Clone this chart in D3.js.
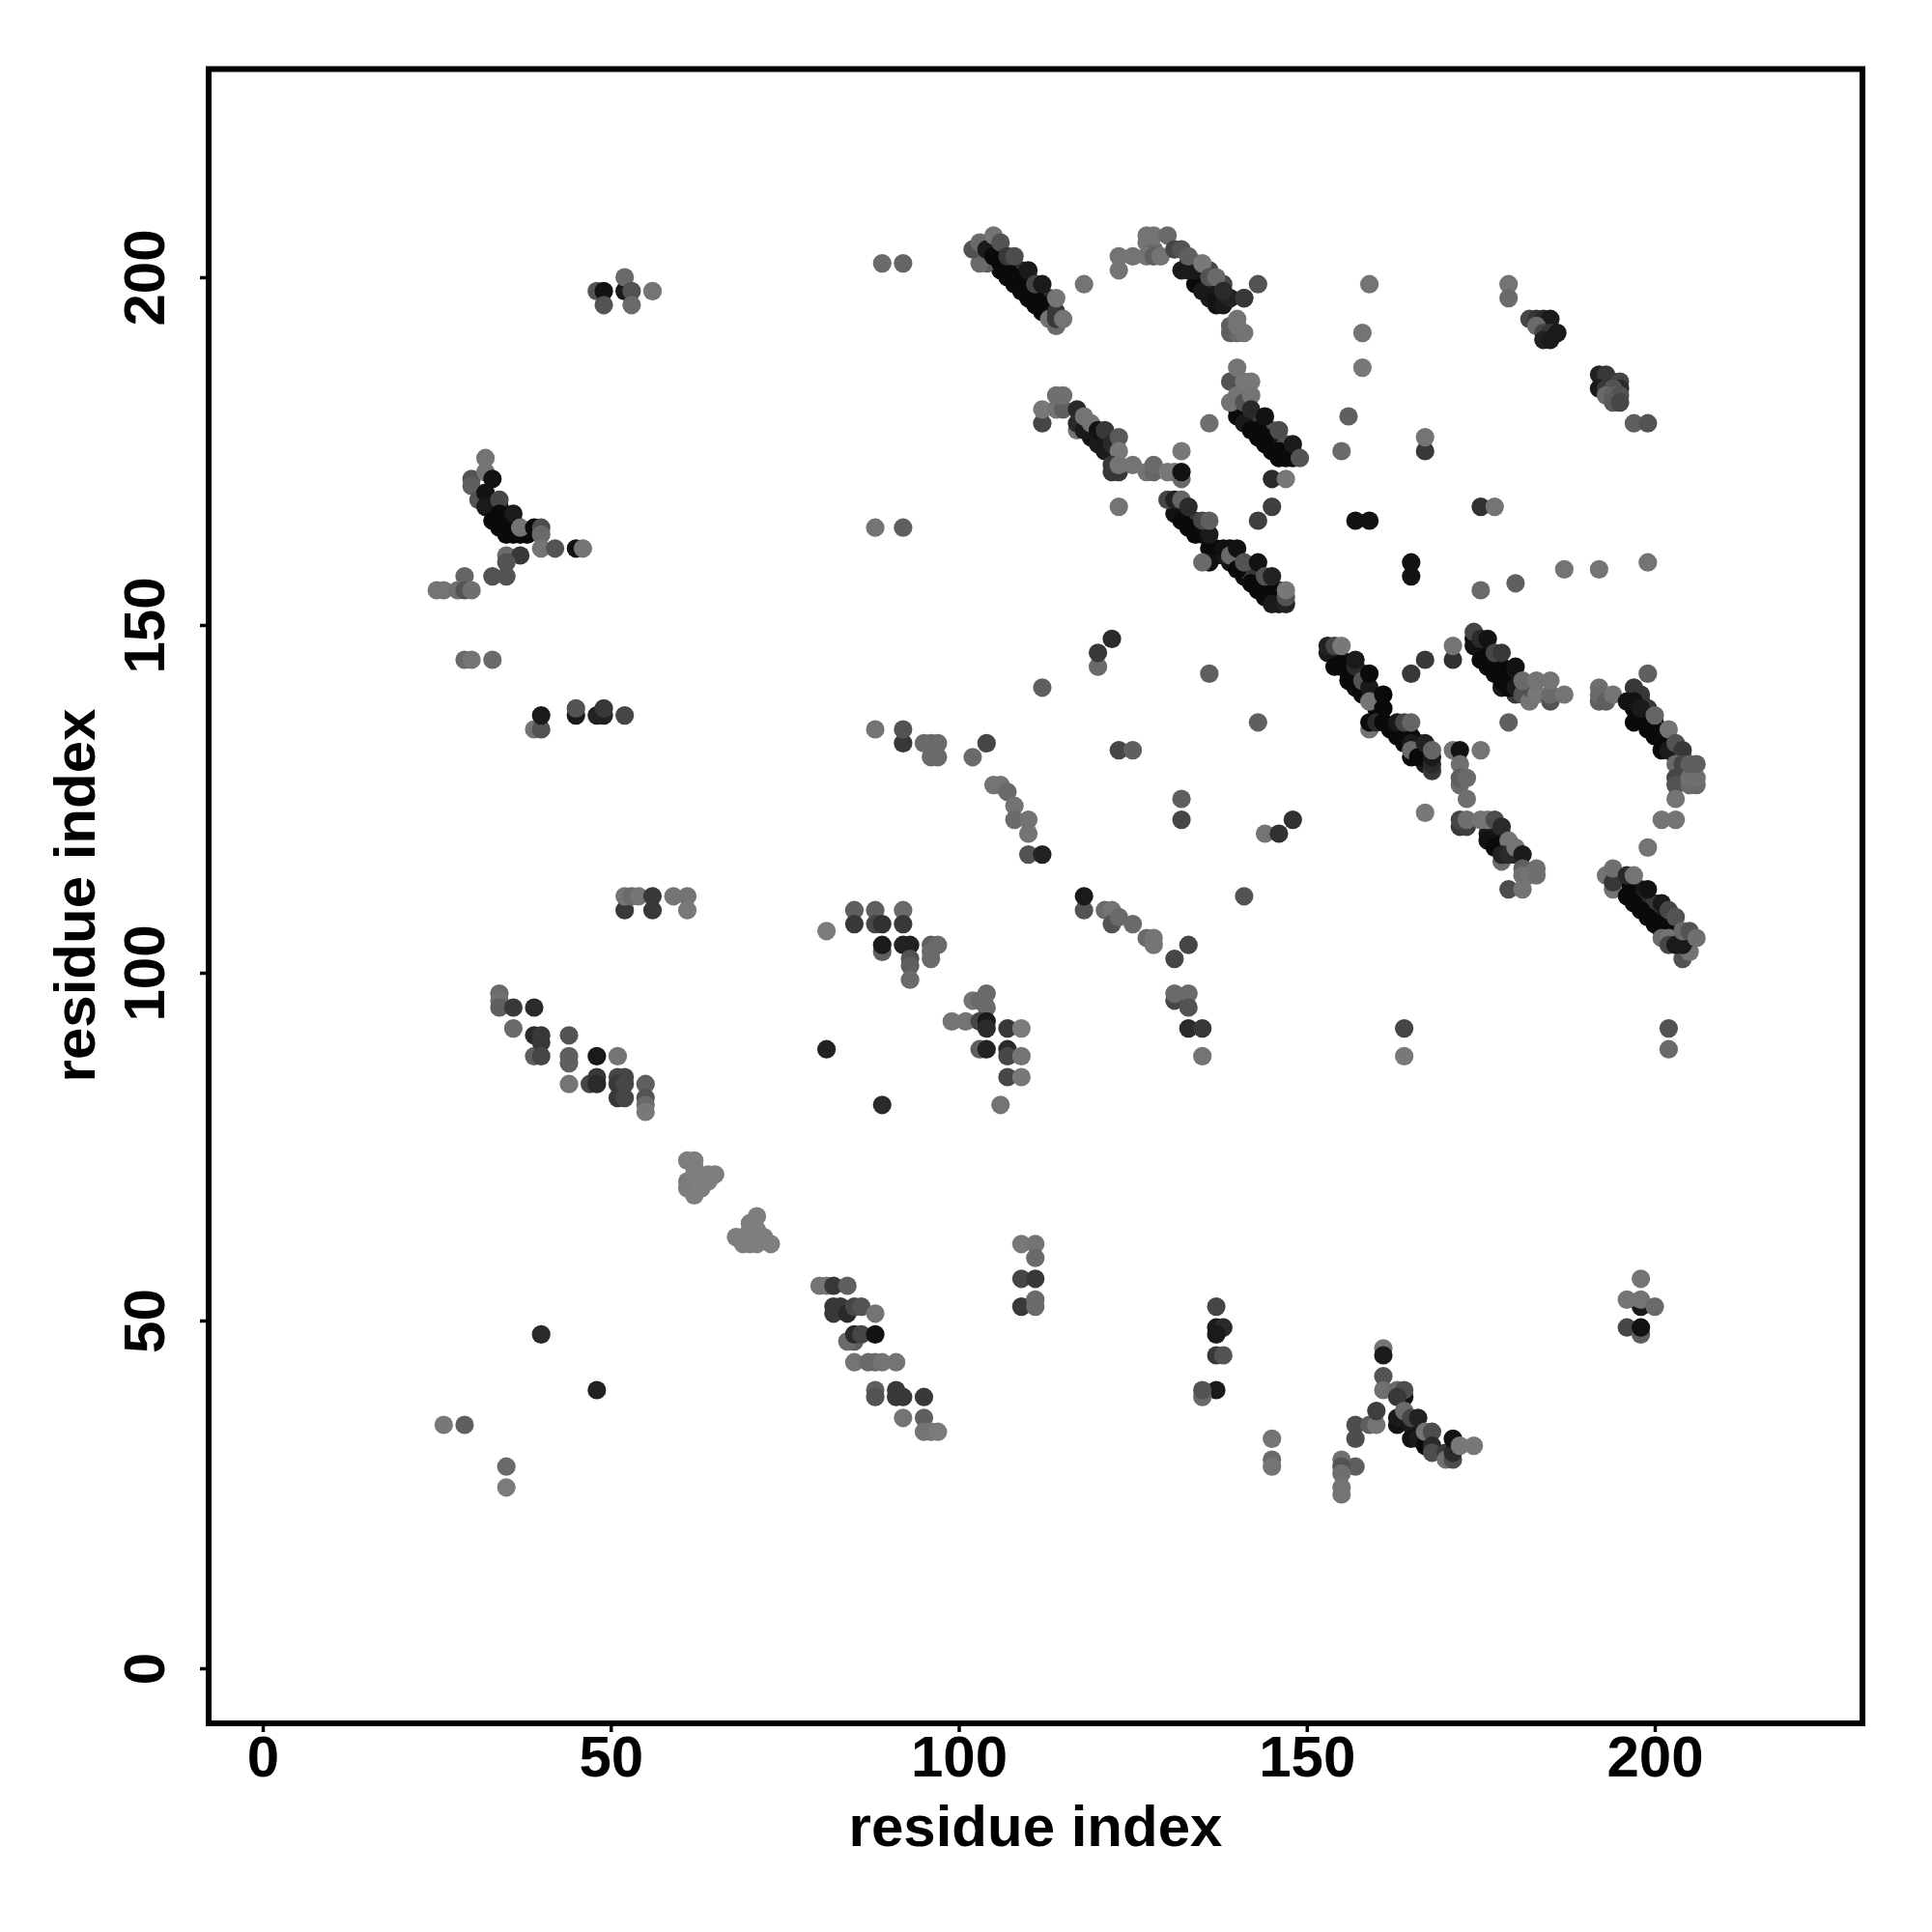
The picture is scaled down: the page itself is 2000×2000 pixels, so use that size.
<!DOCTYPE html>
<html><head><meta charset="utf-8"><style>html,body{margin:0;background:#fff}text{font-family:"Liberation Sans",Arial,sans-serif;font-weight:700}</style>
<script src="https://cdn.jsdelivr.net/npm/d3@7"></script></head><body><svg id="c" width="2000" height="2000"></svg>
<script>
const tickValues=[0,50,100,150,200];
const axisTitle="residue index";
// each contact: [residue x, residue y, strength 0..1]
const bandCores=[[33,167,1],[34,167,1],[35,165,1],[35,164,1],[36,164,1],[36,165,1],[34,164,1],[38,163,1],
[106,201,1],[108,199,1],[110,197,1],[112,195,1],[106,203,.9],[109,201,.8],[110,200,.9],[111,198,.9],[112,197,.9],[113,196,.9],[113,197,.8],
[134,199,1],[135,199,1],[136,198,1],[137,198,1],[137,196,.95],[134,201,.9],[134,202,.6],[136,201,.6],[138,199,.6],[133,202,.9],
[118,179,.9],[119,177,.95],[121,176,.95],[121,175,.9],[119,178,.9],
[140,181,.9],[140,180,1],[141,181,.85],[141,180,1],[142,180,.9],[143,179,.7],[145,177,.6],[146,176,.9],[147,175,1],[148,175,.9],[148,174,1],[147,176,.5],[144,178,.7],[145,178,.5],[143,178,1],[144,177,1],[146,174,1],
[133,165,.9],[134,164,1],[135,164,.9],[134,165,.7],[137,161,1],[139,161,1],[139,159,.95],[141,157,1],[141,158,1],[143,156,1],[144,155,1],[145,154,1],[146,155,.8],[146,154,1],[142,157,.7],[143,157,.7],[145,155,1],[137,160,1],[138,160,.9],
[155,145,1],[156,144,1],[156,143,1],[157,143,1],[158,141,1],[158,143,1],[159,140,1],[160,139,1],[160,138,1],[162,135,1],[163,134,1],[163,135,1],[164,134,1],[165,134,1],[165,131,1],[166,133,1],[166,132,1],[167,130,.9],[168,129,.7],
[174,148,1],[175,147,1],[176,146,1],[176,145,1],[177,145,1],[178,144,1],[178,143,1],[179,143,1],[179,142,.9],[180,142,.9],[177,144,1],[178,141,.9],[180,140,.7],
[197,138,1],[198,137,1],[199,137,1],[200,136,1],[200,135,1],[201,134,.9],[202,133,1],[203,131,1],[203,132,.9],[198,139,.9],[198,140,.7],[199,138,.7],[204,131,.5],
[177,120,1],[178,119,1],[178,120,1],[179,118,.9],[180,117,.8],[177,119,1],[176,120,.9],
[197,112,1],[198,111,1],[197,111,1],[199,110,1],[199,109,1],[200,109,1],[200,108,1],[201,108,.9],[201,107,1],[202,107,1],[202,106,1],[203,105,1],[203,106,1],[204,105,1],[198,112,.9],[198,110,.8],[200,110,.7],[196,113,1],[196,112,1]];
const farLeft=[[26,35,.15],[29,35,.4],[35,29,.3],[35,26,.1],[40,48,.8],[48,40,.85]];
const lowerSheet=[[80,55,.2],[81,55,.2],[82,55,.7],[84,55,.4],[82,52,.7],[83,52,.7],[82,51,.7],[84,51,.8],[85,52,.6],[86,52,.5],[85,47,.4],[84,47,.3],[85,48,.8],[86,48,.6],[85,44,.2],[88,51,.2],[88,48,.95],[87,44,.3],[88,44,.3],[89,44,.2],[91,44,.2],[88,40,.4],[88,39,.5],[91,39,.7],[91,40,.7],[92,39,.7],[92,36,.2],[95,39,.7],[95,36,.4],[95,34,.2],[96,34,.2],[97,34,.1]];
const greyPatches=[[61,69,.05],[61,70,.1],[62,68,.05],[62,71,.05],[62,73,.05],[61,73,.05],[62,72,.05],[63,69,.05],[63,70,.05],[64,70,.05],[64,71,.05],[65,71,.05],[68,62,.05],[69,61,.05],[69,62,.05],[70,61,.05],[70,63,.05],[70,64,.05],[71,61,.05],[71,63,.05],[71,65,.05],[72,62,.05],[73,61,.05]];
const leftSheet=[[34,97,.3],[34,96,.25],[34,95,.4],[36,95,.7],[36,92,.3],[39,95,.8],[39,91,.8],[40,91,.7],[39,88,.4],[40,90,.7],[40,88,.6],[44,91,.5],[44,88,.4],[44,87,.4],[44,84,.2],[48,88,.9],[47,84,.6],[48,85,.7],[48,84,.8],[51,88,.2],[51,85,.6],[52,85,.6],[51,84,.7],[51,82,.7],[52,82,.6],[52,84,.6],[55,84,.4],[55,82,.5],[55,81,.3],[55,80,.15]];
const leftRows=[[52,109,.7],[52,111,.2],[53,111,.3],[54,111,.2],[56,111,.7],[56,109,.7],[59,111,.2],[61,111,.2],[61,109,.15],[39,135,.2],[40,135,.5],[40,137,.9],[45,137,.9],[45,138,.5],[48,137,.85],[49,137,.85],[49,138,.7],[52,137,.6],[48,198,.5],[49,198,.95],[49,196,.5],[52,198,.9],[52,200,.3],[53,198,.5],[53,196,.3],[56,198,.2]];
const leftArc=[[32,174,.2],[30,171,.5],[30,170,.4],[32,172,.2],[33,171,.95],[31,168,.5],[32,169,.95],[32,167,.9],[34,168,.6],[33,165,1],[34,166,1],[36,166,.9],[35,163,1],[36,163,1],[37,163,1],[37,164,.2],[39,164,1],[40,164,.55],[40,163,.3],[40,161,.2],[42,161,.5],[45,161,.95],[46,161,.2],[35,160,.3],[37,160,.7],[35,159,.5],[33,157,.5],[35,157,.5],[29,157,.35],[25,155,.2],[26,155,.2],[28,155,.25],[29,155,.5],[30,155,.25],[29,145,.3],[30,145,.2],[33,145,.3]];
const midScatter=[[89,202,.3],[92,202,.35],[88,164,.2],[92,164,.4],[81,89,.85],[89,81,.8],[81,106,.1],[85,109,.4],[85,107,.7],[88,109,.4],[88,107,.6],[89,107,.75],[89,103,.4],[89,104,.9],[92,109,.3],[92,107,.7],[92,104,.85],[93,104,.85],[93,102,.5],[93,101,.4],[93,99,.3],[96,104,.4],[96,103,.3],[96,102,.3],[97,104,.3]];
const centerCluster=[[99,93,.2],[101,93,.2],[102,96,.2],[103,96,.3],[104,97,.3],[104,95,.3],[103,93,.6],[104,93,.9],[104,92,.8],[103,89,.4],[104,89,.85],[107,92,.7],[107,89,.8],[107,88,.6],[107,85,.6],[109,92,.1],[109,88,.2],[109,85,.15],[106,81,.2],[109,61,.15],[111,61,.2],[111,59,.3],[109,56,.6],[111,56,.7],[109,52,.7],[111,53,.3],[111,52,.3]];
const lowerRight=[[137,52,.6],[137,49,.9],[138,49,.8],[137,48,.9],[137,45,.7],[138,45,.5],[137,40,.9],[135,39,.3],[135,40,.5],[145,33,.2],[145,30,.3],[145,29,.2],[155,30,.25],[157,29,.4],[155,29,.5],[155,28,.25],[155,26,.2],[155,25,.2],[157,35,.55],[157,33,.55],[159,35,.4],[160,35,.2],[160,37,.65],[161,46,.2],[161,45,.9],[161,42,.5],[161,40,.25],[163,40,.3],[164,39,.95],[164,40,.55],[163,39,.7],[163,35,.95],[163,36,.9],[165,35,.9],[164,37,.3],[165,36,.6],[166,36,.85],[165,33,.95],[166,33,.9],[167,32,1],[167,34,.2],[168,34,.55],[168,32,.8],[168,31,.55],[170,31,.7],[170,30,.25],[171,30,.55],[171,31,.8],[171,33,.95],[172,32,.15],[174,32,.15],[198,52,.9],[198,56,.2],[196,53,.2],[198,53,.2],[200,52,.3],[196,49,.6],[198,48,.4],[198,49,.95]];
const chains=[[202,92,.5],[202,89,.3],[164,92,.6],[164,88,.15],[131,102,.6],[133,104,.6],[131,96,.6],[131,97,.3],[133,97,.3],[133,95,.5],[133,92,.8],[135,92,.7],[135,88,.2],[118,109,.5],[118,111,.9],[121,109,.3],[122,109,.2],[122,107,.5],[123,108,.3],[125,107,.3],[127,105,.3],[128,105,.2],[128,104,.2],[141,111,.5],[102,131,.3],[104,133,.6],[105,127,.2],[106,127,.2],[107,126,.3],[108,124,.2],[108,122,.3],[110,122,.2],[110,120,.2],[110,117,.5],[112,117,.85],[88,135,.2],[92,133,.7],[92,135,.5],[95,133,.3],[96,133,.3],[97,133,.3],[96,131,.3],[97,131,.3],[112,141,.4],[120,144,.3],[120,146,.7],[122,148,.8],[123,132,.6],[125,132,.4],[132,125,.4],[132,122,.6],[143,136,.4],[136,143,.4],[144,120,.2],[146,120,.75],[148,122,.75]];
const rightScatter=[[165,159,.95],[165,157,.95],[165,143,.7],[167,145,.7],[167,123,.15],[167,175,.7],[167,177,.2],[156,180,.4],[155,175,.3],[158,192,.2],[158,187,.15],[159,199,.2],[157,165,.95],[159,165,.95],[175,167,.75],[177,167,.2],[175,155,.3],[180,156,.4],[187,158,.2],[192,158,.2],[199,159,.2],[179,199,.2],[179,197,.3],[118,199,.2],[143,165,.65],[145,167,.65],[145,171,.8],[147,171,.15],[136,179,.25],[123,167,.2],[143,199,.5],[141,197,.7]];
const topBand1=[[104,202,.4],[103,202,.3],[102,204,.5],[103,205,.3],[104,204,.9],[105,203,1],[106,202,1],[107,201,1],[108,200,1],[109,199,1],[110,198,1],[111,197,1],[112,196,1],[113,195,1],[107,200,1],[109,198,1],[111,196,1],[105,206,.2],[106,205,.5],[107,203,.7],[108,203,.55],[110,201,.9],[111,199,.6],[112,199,.9],[113,194,.2],[114,193,.3],[114,194,.7],[114,195,.7],[114,197,.2],[115,194,.2]];
const topBand2=[[123,203,.2],[123,201,.2],[125,203,.2],[127,205,.2],[128,204,.3],[127,203,.2],[128,203,.4],[129,203,.2],[127,206,.2],[128,206,.2],[130,206,.3],[132,201,.9],[133,201,.9],[131,204,.6],[132,204,.5],[133,203,.4],[135,198,.9],[136,197,.9],[137,197,.95],[136,199,.9],[135,202,.15],[136,200,.5],[137,200,.3],[138,196,.9],[139,197,.85],[138,198,.8],[141,197,.7],[139,192,.4],[140,192,.3],[141,192,.2],[139,193,.4],[140,193,.2],[140,194,.2]];
const topBand3=[[112,179,.6],[112,181,.15],[114,181,.2],[115,181,.4],[114,183,.25],[115,183,.25],[117,178,.2],[117,179,.8],[117,181,.8],[118,178,.9],[118,180,.2],[119,179,.2],[120,176,.9],[120,178,.95],[121,178,.7],[122,176,.8],[123,177,.45],[123,175,.15],[122,172,.7],[123,172,.7],[122,173,.7],[123,173,.2],[125,173,.2],[127,172,.2],[128,172,.35],[128,173,.3],[130,172,.15],[131,172,.15],[132,171,.3],[132,175,.15],[132,172,.95]];
const topBand4=[[141,179,.9],[142,178,1],[143,177,1],[144,176,1],[145,175,1],[146,175,1],[147,174,1],[139,185,.5],[141,185,.15],[140,187,.2],[139,182,.2],[140,183,.2],[141,182,.5],[142,185,.15],[142,183,.2],[142,181,.8],[144,180,.95],[146,178,.55],[148,176,.9],[149,174,.5]];
const midBand1=[[131,166,.95],[132,165,1],[133,164,1],[134,163,1],[135,163,1],[136,161,1],[136,163,.9],[136,159,.95],[135,159,.3],[130,168,.6],[131,168,.85],[132,168,.35],[133,167,.8],[135,165,.6],[136,165,.4],[138,161,.95],[139,160,.3],[140,161,.95],[140,158,1],[141,159,.5],[142,156,1],[143,155,1],[144,154,1],[145,153,.9],[146,153,.9],[147,153,.85],[143,159,.95],[144,157,.5],[145,157,.85],[147,154,.5],[147,155,.15]];
const midBand2=[[159,135,.2],[153,146,.9],[153,147,.85],[154,147,.6],[155,147,.15],[154,144,1],[155,144,1],[156,142,1],[157,141,1],[158,140,1],[157,144,.8],[157,145,.9],[158,142,.5],[159,141,.9],[159,143,1],[159,139,.2],[161,140,1],[161,138,1],[159,136,1],[160,136,.8],[161,136,1],[163,136,.9],[164,136,.6],[165,136,.35],[164,133,1],[165,133,.9],[165,132,.3],[166,131,1],[167,131,1],[167,133,.85],[168,130,.8],[168,131,.9],[168,132,.35]];
const rightBand1=[[171,145,.75],[171,147,.2],[174,147,.95],[174,149,.6],[175,148,.8],[176,148,.95],[175,145,1],[176,144,1],[177,143,1],[178,142,1],[179,141,1],[180,141,.9],[177,146,.6],[178,146,.7],[180,144,.95],[179,136,.4],[181,140,.5],[182,139,.2],[182,141,.5],[181,142,.3],[183,140,.15],[183,142,.2],[185,139,.5],[185,140,.3],[185,142,.2],[187,140,.2]];
const rightBand2=[[192,139,.4],[192,141,.25],[192,140,.3],[193,139,.4],[194,140,.2],[199,143,.4],[197,141,.7],[196,139,.95],[197,139,.95],[197,136,1],[198,138,.9],[199,135,1],[200,134,1],[201,132,1],[200,137,.35],[202,135,.2],[202,132,.9],[203,133,.5],[204,132,.7],[203,130,.3],[204,130,.6],[203,128,.6],[203,127,.5],[205,127,.3],[206,127,.3],[205,128,.25],[206,128,.25],[205,130,.4],[206,130,.4],[203,125,.2],[203,122,.2],[201,122,.2],[199,118,.2]];
const rightBand3=[[171,132,.2],[172,132,.95],[175,132,.2],[172,130,.25],[172,127,.3],[172,128,.4],[173,128,.3],[173,125,.25],[172,121,.7],[173,121,.65],[172,122,.6],[173,122,.25],[175,122,.2],[176,122,.2],[176,119,.95],[177,118,1],[177,122,.55],[178,121,.8],[179,119,.2],[178,116,.3],[178,117,.85],[179,117,.8],[180,118,.2],[181,117,.9],[181,115,.4],[181,114,.25],[182,114,.2],[183,115,.25],[183,114,.25],[179,112,.55],[181,112,.2]];
const rightBand4=[[193,114,.2],[194,112,.2],[194,113,.7],[194,115,.25],[196,111,1],[197,110,1],[198,109,1],[199,108,1],[200,107,1],[201,106,1],[196,114,.8],[197,114,.2],[199,112,.95],[201,110,.9],[202,109,.6],[203,108,.5],[201,105,.3],[202,105,.2],[202,104,.6],[204,102,.5],[205,103,.2],[203,104,.9],[204,104,.9],[205,105,.9],[204,106,.3],[205,106,.5],[206,105,.25]];
const topRight=[[182,194,.6],[183,194,.7],[184,194,.8],[185,194,.9],[183,193,.3],[184,192,.6],[185,192,.7],[186,192,.9],[184,191,.85],[185,191,.9],[192,186,.85],[193,186,.7],[192,184,.9],[193,184,.7],[194,185,.7],[195,185,.6],[195,184,.8],[194,184,.5],[193,183,.3],[194,183,.4],[195,183,.5],[194,182,.45],[195,182,.6],[197,179,.4],[199,179,.5]];
const groups=[bandCores,farLeft,lowerSheet,greyPatches,leftSheet,leftRows,leftArc,midScatter,centerCluster,lowerRight,chains,rightScatter,topBand1,topBand2,topBand3,topBand4,midBand1,midBand2,rightBand1,rightBand2,rightBand3,rightBand4,topRight];

const x=d3.scaleLinear().domain([0,200]).range([272,1713]);
const y=d3.scaleLinear().domain([0,200]).range([1727,287]);
const shade=d3.scalePow().exponent(1.4).domain([0,1]).range(["#808080","#0a0a0a"]);
const svg=d3.select("#c");
svg.append("g").selectAll("circle").data(groups.flat()).join("circle")
 .attr("cx",d=>x(d[0])).attr("cy",d=>y(d[1])).attr("r",9.6).attr("fill",d=>shade(d[2]));
svg.append("rect").attr("x",216).attr("y",71.5).attr("width",1712).attr("height",1712.5).attr("fill","none").attr("stroke","#000").attr("stroke-width",6);
const ax=svg.append("g").attr("transform","translate(0,1787)").call(d3.axisBottom(x).tickValues(tickValues).tickSize(6).tickPadding(0));
ax.select(".domain").remove();
ax.selectAll("line").attr("stroke","#000").attr("stroke-width",3.5);
ax.selectAll("text").attr("y",52).attr("dy",0).attr("font-size",60).attr("fill","#000").style("font-family","'Liberation Sans'").style("font-weight",700);
const ay=svg.append("g").attr("transform","translate(213,0)").call(d3.axisLeft(y).tickValues(tickValues).tickSize(6).tickPadding(0));
ay.select(".domain").remove();
ay.selectAll("line").attr("stroke","#000").attr("stroke-width",3.5);
ay.selectAll("text").attr("x",0).attr("y",0).attr("dy",0).attr("text-anchor","middle").attr("font-size",60).attr("fill","#000")
 .attr("transform","translate(-43,0) rotate(-90)").style("font-family","'Liberation Sans'").style("font-weight",700);
svg.append("text").attr("x",1072).attr("y",1911).attr("text-anchor","middle").attr("font-size",60).text(axisTitle);
svg.append("text").attr("transform","translate(98,927) rotate(-90)").attr("text-anchor","middle").attr("font-size",60).text(axisTitle);
</script></body></html>
